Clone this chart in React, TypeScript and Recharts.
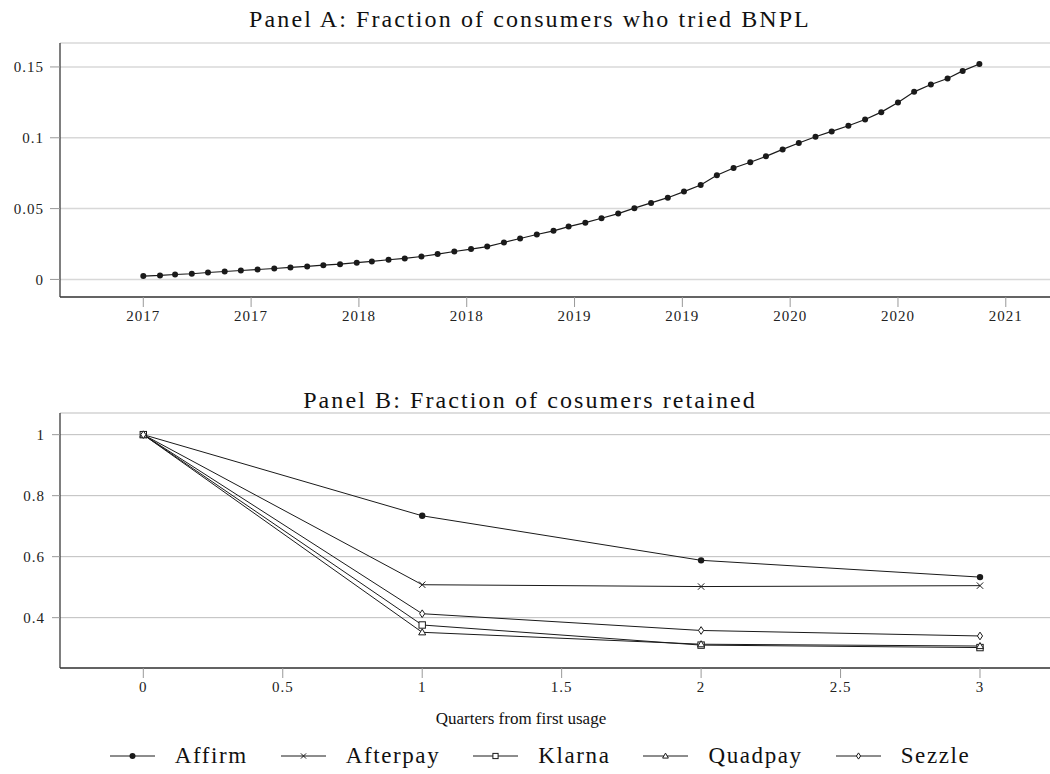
import React from "react";
import { LineChart, Line, XAxis, YAxis, CartesianGrid } from "recharts";

// Panel A: monthly share of consumers who have tried BNPL
const months = [
  "2017-01", "2017-02", "2017-03", "2017-04", "2017-05", "2017-06", "2017-07", "2017-08", "2017-09", "2017-10", "2017-11", "2017-12",
  "2018-01", "2018-02", "2018-03", "2018-04", "2018-05", "2018-06", "2018-07", "2018-08", "2018-09", "2018-10", "2018-11", "2018-12",
  "2019-01", "2019-02", "2019-03", "2019-04", "2019-05", "2019-06", "2019-07", "2019-08", "2019-09", "2019-10", "2019-11", "2019-12",
  "2020-01", "2020-02", "2020-03", "2020-04", "2020-05", "2020-06", "2020-07", "2020-08", "2020-09", "2020-10", "2020-11", "2020-12",
  "2021-01", "2021-02", "2021-03", "2021-04",
];
const triedShare = [
  0.0024, 0.0028, 0.0035, 0.004, 0.0049, 0.0056, 0.0063, 0.007, 0.0077, 0.0085, 0.0092, 0.0101,
  0.0108, 0.0118, 0.0127, 0.0139, 0.0148, 0.0162, 0.0179, 0.0197, 0.0214, 0.0232, 0.0261, 0.0289,
  0.0317, 0.0343, 0.0373, 0.0401, 0.0432, 0.0465, 0.0503, 0.054, 0.0577, 0.062, 0.0667, 0.0735,
  0.0787, 0.0827, 0.0869, 0.0918, 0.0963, 0.1007, 0.1045, 0.1085, 0.1129, 0.1181, 0.1249, 0.1324,
  0.1376, 0.1418, 0.1472, 0.1521,
];
// ticks every 200 days from Jan 2017, labelled by year
const tickDaysA = [0, 200, 400, 600, 800, 1000, 1200, 1400, 1600];
const tickLabelsA = ["2017", "2017", "2018", "2018", "2019", "2019", "2020", "2020", "2021"];
const yTicksA = [0, 0.05, 0.1, 0.15];

// Panel B: retention by quarter since first use
const quarters = [0, 1, 2, 3];
const affirm = [1, 0.734, 0.588, 0.533];
const afterpay = [1, 0.508, 0.502, 0.505];
const klarna = [1, 0.376, 0.31, 0.302];
const quadpay = [1, 0.352, 0.313, 0.307];
const sezzle = [1, 0.413, 0.358, 0.34];
const xTicksB = [0, 0.5, 1, 1.5, 2, 2.5, 3];
const yTicksB = [0.4, 0.6, 0.8, 1];

const FONT = "'Liberation Serif', 'DejaVu Serif', serif";
const AXIS = "#3a3a3a";

const day0 = Date.UTC(2017, 0, 1);
const dataA = months.map((m, i) => {
  const [y, mo] = m.split("-").map(Number);
  return { day: (Date.UTC(y, mo - 1, 1) - day0) / 864e5, share: triedShare[i] };
});

const seriesB = [
  { name: "Affirm", key: "affirm", values: affirm, shape: "circle" },
  { name: "Afterpay", key: "afterpay", values: afterpay, shape: "cross" },
  { name: "Klarna", key: "klarna", values: klarna, shape: "square" },
  { name: "Quadpay", key: "quadpay", values: quadpay, shape: "triangle" },
  { name: "Sezzle", key: "sezzle", values: sezzle, shape: "diamond" },
];
const dataB = quarters.map((q, i) => {
  const row: any = { q };
  seriesB.forEach((s) => (row[s.key] = s.values[i]));
  return row;
});

function Marker({ cx, cy, shape, size = 3.2 }: any) {
  if (cx == null || cy == null) return null;
  const s = size;
  if (shape === "circle") return <circle cx={cx} cy={cy} r={s} fill="#1a1a1a" />;
  if (shape === "cross")
    return (
      <path d={`M${cx - s},${cy - s}L${cx + s},${cy + s}M${cx - s},${cy + s}L${cx + s},${cy - s}`} stroke="#1a1a1a" strokeWidth={1} />
    );
  if (shape === "square")
    return <rect x={cx - s} y={cy - s} width={2 * s} height={2 * s} fill="#fff" stroke="#1a1a1a" strokeWidth={1} />;
  if (shape === "triangle")
    return (
      <path d={`M${cx},${cy - s * 1.1}L${cx + s * 1.1},${cy + s * 0.8}L${cx - s * 1.1},${cy + s * 0.8}Z`} fill="#fff" stroke="#1a1a1a" strokeWidth={1} />
    );
  return <path d={`M${cx},${cy - s * 1.2}L${cx + s * 0.8},${cy}L${cx},${cy + s * 1.2}L${cx - s * 0.8},${cy}Z`} fill="#fff" stroke="#1a1a1a" strokeWidth={1} />;
}

const tickStyle = { fontFamily: FONT, fontSize: 15, fill: "#222", letterSpacing: 1 };

function PanelA() {
  return (
    <LineChart width={1050} height={330} data={dataA} margin={{ top: 43, right: 0, bottom: 3, left: 0 }}>
      <CartesianGrid horizontal vertical={false} stroke="#d8d8d8" strokeWidth={1.5} />
      <XAxis
        dataKey="day"
        type="number"
        domain={[-154.5, 1682]}
        allowDataOverflow
        ticks={tickDaysA}
        tickFormatter={(v: number) => tickLabelsA[tickDaysA.indexOf(v)]}
        height={30}
        tickSize={10}
        tickMargin={3}
        tick={tickStyle}
        tickLine={{ stroke: "#999" }}
        axisLine={{ stroke: AXIS, strokeWidth: 1.3 }}
      />
      <XAxis xAxisId="top" orientation="top" type="number" domain={[0, 1]} height={0} tick={false} tickLine={false} axisLine={{ stroke: AXIS, strokeWidth: 1.3 }} />
      <YAxis
        type="number"
        domain={[-0.0124, 0.1669]}
        allowDataOverflow
        ticks={yTicksA}
        tickFormatter={(v: number) => String(v)}
        width={60}
        tickSize={10}
        tickMargin={6}
        tick={tickStyle}
        tickLine={{ stroke: "#999" }}
        axisLine={{ stroke: AXIS, strokeWidth: 1.3 }}
      />
      <Line
        dataKey="share"
        stroke="#1a1a1a"
        strokeWidth={1.2}
        dot={{ r: 3, fill: "#1a1a1a", stroke: "none" }}
        isAnimationActive={false}
      />
    </LineChart>
  );
}

function PanelB() {
  return (
    <LineChart width={1050} height={330} data={dataB} margin={{ top: 33, right: 0, bottom: 12, left: 0 }}>
      <CartesianGrid horizontal vertical={false} stroke="#bdbdbd" strokeWidth={1} />
      <XAxis
        dataKey="q"
        type="number"
        domain={[-0.2987, 3.251]}
        allowDataOverflow
        ticks={xTicksB}
        tickFormatter={(v: number) => String(v)}
        height={30}
        tickSize={10}
        tickMargin={3}
        tick={tickStyle}
        tickLine={{ stroke: "#999" }}
        axisLine={{ stroke: AXIS, strokeWidth: 1.3 }}
      />
      <XAxis xAxisId="top" orientation="top" type="number" domain={[0, 1]} height={0} tick={false} tickLine={false} axisLine={{ stroke: AXIS, strokeWidth: 1.3 }} />
      <YAxis
        type="number"
        domain={[0.235, 1.071]}
        allowDataOverflow
        ticks={yTicksB}
        tickFormatter={(v: number) => String(v)}
        width={60}
        tickSize={8}
        tickMargin={7}
        tick={tickStyle}
        tickLine={{ stroke: "#999" }}
        axisLine={{ stroke: AXIS, strokeWidth: 1.3 }}
      />
      {seriesB.map((s) => (
        <Line
          key={s.key}
          dataKey={s.key}
          name={s.name}
          stroke="#1a1a1a"
          strokeWidth={1}
          dot={(p: any) => <Marker key={`${s.key}-${p.index}`} cx={p.cx} cy={p.cy} shape={s.shape} />}
          isAnimationActive={false}
        />
      ))}
    </LineChart>
  );
}

function LegendB() {
  return (
    <div style={{ display: "flex", alignItems: "center", justifyContent: "center", fontFamily: FONT, fontSize: 23, letterSpacing: 1.6, color: "#111" }}>
      {seriesB.map((s, i) => (
        <div key={s.key} style={{ display: "flex", alignItems: "center", marginRight: i < seriesB.length - 1 ? 33 : 0 }}>
          <svg width={45} height={14} style={{ marginRight: 20 }}>
            <line x1={0} y1={7} x2={45} y2={7} stroke="#1a1a1a" strokeWidth={1} />
            <Marker cx={22.5} cy={7} shape={s.shape} size={s.shape === "circle" ? 3 : 2.6} />
          </svg>
          <span>{s.name}</span>
        </div>
      ))}
    </div>
  );
}

const titleStyle: React.CSSProperties = {
  position: "absolute",
  left: 10,
  width: 1040,
  textAlign: "center",
  fontFamily: FONT,
  fontSize: 24,
  letterSpacing: 2.1,
  color: "#111",
  lineHeight: "28px",
};

export default function App() {
  return (
    <div style={{ position: "absolute", left: 0, top: 0, width: 1050, height: 774, background: "#fff", overflow: "hidden" }}>
      <div style={{ ...titleStyle, top: 5 }}>Panel A: Fraction of consumers who tried BNPL</div>
      <div style={{ position: "absolute", left: 0, top: 0 }}>
        <PanelA />
      </div>
      <div style={{ ...titleStyle, top: 386 }}>Panel B: Fraction of cosumers retained</div>
      <div style={{ position: "absolute", left: 0, top: 380 }}>
        <PanelB />
      </div>
      <div style={{ position: "absolute", left: 0, width: 1042, top: 709, textAlign: "center", fontFamily: FONT, fontSize: 17, letterSpacing: 0, color: "#111" }}>
        Quarters from first usage
      </div>
      <div style={{ position: "absolute", left: 40, width: 1000, top: 743 }}>
        <LegendB />
      </div>
    </div>
  );
}
